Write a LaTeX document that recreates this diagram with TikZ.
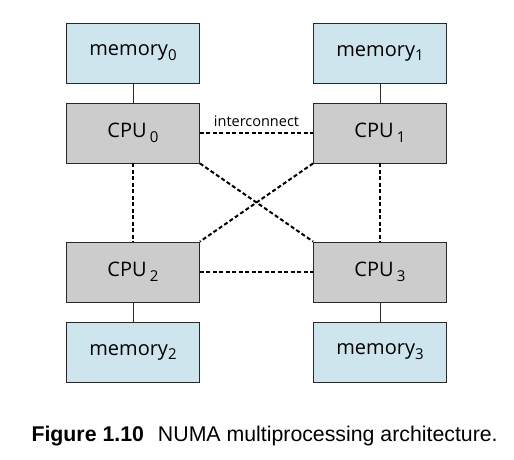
\documentclass[tikz,border=0pt]{standalone}
\usepackage{fontspec}
\setmainfont{Open Sans}
\newfontfamily\capfont{Liberation Sans}
\usetikzlibrary{positioning}

\definecolor{memblue}{RGB}{207,229,238}
\definecolor{cpugray}{RGB}{204,204,204}
\definecolor{edge}{RGB}{40,40,40}

\newcommand{\idx}[1]{\raisebox{-0.45ex}{\fontsize{15}{16}\selectfont#1}}

\tikzset{
  membox/.style={draw=edge, line width=0.9pt, fill=memblue, minimum width=133pt, minimum height=60pt, font=\fontsize{20}{23}\selectfont},
  cpubox/.style={draw=edge, line width=0.9pt, fill=cpugray, minimum width=133pt, minimum height=60pt, font=\fontsize{20}{23}\selectfont},
  link/.style={dash pattern=on 4pt off 2.5pt, line width=2pt}
}

\begin{document}
\begin{tikzpicture}[x=1pt, y=1pt, node distance=80pt]
\useasboundingbox (0,0) rectangle (514,-460);
\node(CPU0) [cpubox] at (133,-133) {CPU\,\idx{0}};
\node(CPU1) [cpubox] at (380,-133) {CPU\,\idx{1}};
\node(CPU2) [cpubox] at (133,-272) {CPU\,\idx{2}};
\node(CPU3) [cpubox] at (380,-272) {CPU\,\idx{3}};
\node(M0) [membox, above of=CPU0] {memory\idx{0}};
\node(M1) [membox, above of=CPU1] {memory\idx{1}};
\node(M2) [membox, below of=CPU2] {memory\idx{2}};
\node(M3) [membox, below of=CPU3] {memory\idx{3}};
% memories
\draw[edge, line width=0.9pt] (M0) -- (CPU0);
\draw[edge, line width=0.9pt] (M1) -- (CPU1);
\draw[edge, line width=0.9pt] (M2) -- (CPU2);
\draw[edge, line width=0.9pt] (M3) -- (CPU3);
% interconnect
\draw[link] (CPU0) -- node(IC) [above=2pt, font=\fontsize{14.5}{16}\selectfont] {interconnect} (CPU1);
\draw[link] (CPU2) -- (CPU3);
\draw[link] (CPU0) -- (CPU2);
\draw[link] (CPU1) -- (CPU3);
\draw[link] (CPU0.south east) -- (CPU3.north west);
\draw[link] (CPU1.south west) -- (CPU2.north east);
\node(CAP) [anchor=base west, font=\capfont\fontsize{21.3}{24}\selectfont] at (28,-441) {\textbf{Figure 1.10}\hspace{14pt}NUMA multiprocessing architecture.};
\end{tikzpicture}
\end{document}
